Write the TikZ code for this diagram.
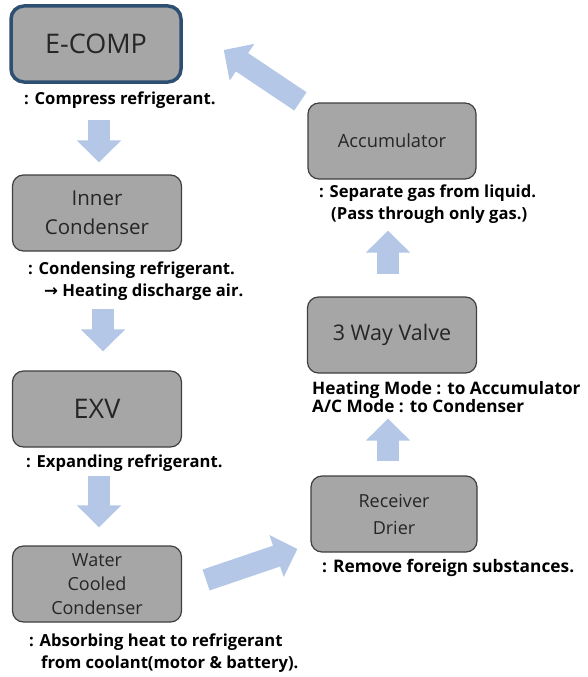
\documentclass[tikz,border=0pt]{standalone}
\usepackage{fontspec}
\setmainfont{Open Sans}
\newfontfamily\symfont{DejaVu Sans}
\usetikzlibrary{arrows.meta,positioning,calc}
\usepackage{xcolor}
\definecolor{BoxGray}{HTML}{A6A6A6}
\definecolor{BoxLine}{HTML}{3F3F3F}
\definecolor{CompBlue}{HTML}{2D4F72}
\definecolor{FlowBlue}{HTML}{B4C7E7}
\definecolor{TextDark}{HTML}{262626}

\begin{document}
\begin{tikzpicture}[x=1pt, y=-1pt,
   part/.style={draw=BoxLine, fill=BoxGray, rounded corners=11pt, line width=1.2pt,
                minimum width=169pt, minimum height=76pt, align=center,
                text=TextDark, inner sep=0pt},
   note/.style={anchor=west, align=left, inner sep=0pt, text=black,
                font=\bfseries\fontsize{16.6}{22}\selectfont},
   flow/.style={line width=22pt, FlowBlue, -{Triangle[width=43pt, length=22pt]}}]
  \useasboundingbox (0,0) rectangle (588,677);
  % left column
  \node[part, draw=CompBlue, line width=3.5pt, rounded corners=13pt, minimum width=170pt,
        font=\fontsize{27}{32}\selectfont] (ecomp) at (96,44) {E-COMP};
  \node[note] (compnote) at (24,100) {: Compress refrigerant.};
  \node[part, font=\fontsize{20.5}{29}\selectfont] (inner) at (97,213) {Inner\\Condenser};
  \node[note] (innernote) at (28,281) {: Condensing refrigerant.\\\hspace*{16pt}{\symfont →} Heating discharge air.};
  \node[part, font=\fontsize{27}{32}\selectfont] (exv) at (97,409) {EXV};
  \node[note] (exvnote) at (26,463) {: Expanding refrigerant.};
  \node[part, font=\fontsize{18}{24}\selectfont] (wcc) at (97,584) {Water\\Cooled\\Condenser};
  \node[note] (wccnote) at (29,653) {: Absorbing heat to refrigerant\\\hspace*{12pt}from coolant(motor \& battery).};
  % right column
  \node[part, minimum width=166pt, font=\fontsize{18}{27}\selectfont] (rd) at (394,514) {Receiver\\Drier};
  \node[note, font=\bfseries\fontsize{17.3}{22}\selectfont] (rdnote) at (322,568) {: Remove foreign substances.};
  \node[part, font=\fontsize{21.5}{28}\selectfont] (valve) at (392,335) {3 Way Valve};
  \node[note, font=\bfseries\fontsize{17.2}{18}\selectfont] (valvenote) at (312,397) {Heating Mode : to Accumulator\\A/C Mode : to Condenser};
  \node[part, minimum width=168pt, font=\fontsize{18.3}{24}\selectfont] (acc) at (392,141) {Accumulator};
  \node[note] (accnote) at (319,204) {: Separate gas from liquid.\\\hspace*{12pt}(Pass through only gas.)};
  % refrigerant flow
  \draw[flow] ([xshift=3pt, yshift=-36pt]ecomp.south) -- ([xshift=2pt, yshift=12pt]inner.north);
  \draw[flow] ([xshift=6pt, yshift=-57pt]inner.south) -- ([xshift=6pt, yshift=19pt]exv.north);
  \draw[flow] ([xshift=2pt, yshift=-28pt]exv.south) -- ([xshift=2pt, yshift=18pt]wcc.north);
  \draw[flow] ([xshift=24pt, yshift=4pt]wcc.east) -- ([xshift=-13pt, yshift=-35pt]rd.west);
  \draw[flow] ([xshift=-6pt, yshift=14pt]rd.north) -- ([xshift=-4pt, yshift=-45pt]valve.south);
  \draw[flow] ([xshift=-4pt, yshift=22pt]valve.north) -- ([xshift=-4pt, yshift=-51pt]acc.south);
  \draw[flow] ([xshift=-7pt, yshift=1pt]acc.north west) -- ([xshift=41pt, yshift=-6pt]ecomp.east);
\end{tikzpicture}
\end{document}
